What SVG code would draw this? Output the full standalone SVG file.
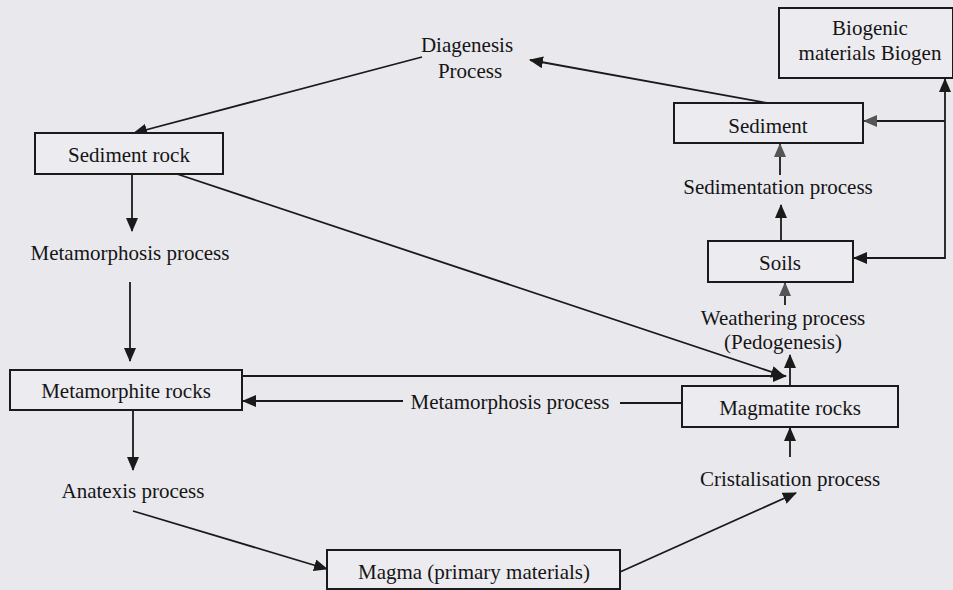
<svg xmlns="http://www.w3.org/2000/svg" width="953" height="590" viewBox="0 0 953 590">
<defs>
<marker id="ah" markerUnits="userSpaceOnUse" markerWidth="14" markerHeight="12" refX="13" refY="6" orient="auto">
<path d="M0,0 L14,6 L0,12 Z" fill="#1a1a1a"/>
</marker>
<marker id="ahg" markerUnits="userSpaceOnUse" markerWidth="14" markerHeight="12" refX="13" refY="6" orient="auto">
<path d="M0,0 L14,6 L0,12 Z" fill="#555"/>
</marker>
<style>
.box{fill:#ecebf0;stroke:#1a1a1a;stroke-width:2}
.t{font-family:"Liberation Serif","Times New Roman",serif;font-size:21px;fill:#151515;text-anchor:middle}
.c{fill:none;stroke:#1a1a1a;stroke-width:1.8}
</style>
</defs>
<rect width="953" height="590" fill="#e9e8ed"/>

<g id="connectors">
<line class="c" x1="767" y1="103" x2="530" y2="60" marker-end="url(#ah)"/>
<line class="c" x1="422" y1="57" x2="134" y2="133" marker-end="url(#ah)"/>
<line class="c" x1="132" y1="174" x2="132" y2="231" marker-end="url(#ah)"/>
<line class="c" x1="130" y1="282" x2="130" y2="361" marker-end="url(#ah)"/>
<line class="c" x1="133" y1="400" x2="133" y2="470" marker-end="url(#ah)"/>
<line class="c" x1="133" y1="511" x2="327" y2="569" marker-end="url(#ah)"/>
<line class="c" x1="620" y1="572" x2="796" y2="493" marker-end="url(#ah)"/>
<line class="c" x1="790" y1="457" x2="790" y2="428" marker-end="url(#ah)"/>
<line class="c" x1="682" y1="403" x2="620" y2="403"/>
<line class="c" x1="403" y1="401" x2="243" y2="401" marker-end="url(#ah)"/>
<line class="c" x1="242" y1="376" x2="786" y2="376" marker-end="url(#ah)"/>
<line class="c" x1="174" y1="173" x2="784" y2="376" marker-end="url(#ah)"/>
<line class="c" x1="790" y1="385" x2="790" y2="355" marker-end="url(#ah)"/>
<line class="c" x1="785" y1="305" x2="785" y2="283" marker-end="url(#ahg)"/>
<line class="c" x1="781" y1="241" x2="781" y2="205" marker-end="url(#ah)"/>
<line class="c" x1="780" y1="175" x2="780" y2="144" marker-end="url(#ahg)"/>
<line class="c" x1="945" y1="258" x2="854" y2="258" marker-end="url(#ah)"/>
<line class="c" x1="945" y1="259" x2="945" y2="79" marker-end="url(#ah)"/>
<line class="c" x1="945" y1="121" x2="864" y2="121" stroke="#6b4a3a" marker-end="url(#ahg)"/>
</g>

<g id="sediment-rock">
<rect class="box" x="35" y="133" width="188" height="41"/>
<text class="t" x="129" y="162">Sediment rock</text>
</g>
<g id="diagenesis">
<text class="t" x="467" y="52">Diagenesis</text>
<text class="t" x="470" y="78">Process</text>
</g>
<g id="metamorphosis-1">
<text class="t" x="130" y="260">Metamorphosis process</text>
</g>
<g id="metamorphite-rocks">
<rect class="box" x="10" y="370" width="232" height="40"/>
<text class="t" x="126" y="398">Metamorphite rocks</text>
</g>
<g id="anatexis">
<text class="t" x="133" y="498">Anatexis process</text>
</g>
<g id="magma">
<rect class="box" x="327" y="550" width="293" height="39"/>
<text class="t" x="474" y="579">Magma (primary materials)</text>
</g>
<g id="cristalisation">
<text class="t" x="790" y="486">Cristalisation process</text>
</g>
<g id="magmatite-rocks">
<rect class="box" x="682" y="386" width="216" height="41"/>
<text class="t" x="790" y="415">Magmatite rocks</text>
</g>
<g id="metamorphosis-2">
<text class="t" x="510" y="409">Metamorphosis process</text>
</g>
<g id="weathering">
<text class="t" x="783" y="325">Weathering process</text>
<text class="t" x="783" y="349">(Pedogenesis)</text>
</g>
<g id="soils">
<rect class="box" x="708" y="241" width="145" height="41"/>
<text class="t" x="780" y="270">Soils</text>
</g>
<g id="sedimentation">
<text class="t" x="778" y="194">Sedimentation process</text>
</g>
<g id="sediment">
<rect class="box" x="674" y="103" width="189" height="40"/>
<text class="t" x="768" y="133">Sediment</text>
</g>
<g id="biogenic">
<rect class="box" x="779" y="8" width="174" height="70"/>
<text class="t" x="870" y="35">Biogenic</text>
<text class="t" x="870" y="60">materials Biogen</text>
</g>
</svg>
